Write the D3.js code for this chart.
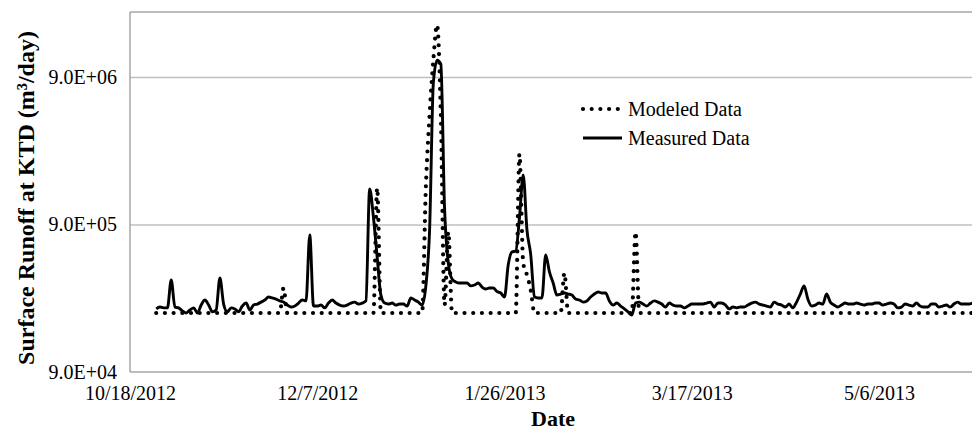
<!DOCTYPE html>
<html>
<head>
<meta charset="utf-8">
<script src="https://cdn.jsdelivr.net/npm/d3@7"></script>
<style>
  html, body { margin: 0; padding: 0; background: #fff; }
  svg { display: block; font-family: "Liberation Serif", "Times New Roman", serif; }
</style>
</head>
<body>
<svg id="chart" width="972" height="431"></svg>
<script>
// ---------------- DATA ----------------
const seriesStart = "2012-10-25";   // first daily value
const seriesNames = ["Modeled Data", "Measured Data"];

// Measured surface runoff, m3/day, daily from 10/25/2012
const measured = [
  241000,248000,245000,245000,378000,248000,245000,233000,226000,237000,
  245000,226000,256000,277000,256000,230000,237000,390000,260000,230000,
  245000,241000,230000,252000,264000,237000,256000,260000,268000,277000,
  290000,286000,281000,273000,268000,256000,248000,252000,264000,277000,
  273000,764000,252000,252000,256000,245000,264000,277000,264000,256000,
  252000,256000,264000,268000,260000,264000,273000,1567000,1012000,542000,
  299000,264000,260000,264000,256000,260000,260000,252000,286000,277000,
  268000,256000,345000,826000,8190000,11700000,11000000,1150000,493000,384000,
  367000,361000,361000,361000,345000,350000,361000,339000,329000,334000,
  334000,316000,309000,290000,480000,586000,595000,1000000,1950000,826000,
  565000,290000,286000,286000,559000,430000,361000,299000,304000,309000,
  304000,299000,281000,277000,268000,273000,290000,304000,314000,309000,
  309000,273000,256000,264000,252000,241000,230000,219000,264000,268000,
  260000,252000,264000,273000,268000,260000,248000,264000,256000,252000,
  252000,245000,252000,260000,260000,260000,260000,264000,268000,248000,
  264000,264000,256000,241000,248000,245000,248000,248000,256000,264000,
  268000,260000,256000,252000,248000,268000,260000,256000,248000,260000,
  245000,268000,304000,345000,281000,252000,256000,264000,260000,304000,
  268000,256000,248000,256000,264000,260000,260000,264000,260000,256000,
  260000,260000,264000,264000,256000,260000,264000,260000,245000,248000,
  260000,256000,252000,264000,252000,248000,248000,260000,260000,248000,
  252000,256000,248000,260000,268000,260000,260000,260000,264000
];

// Modeled surface runoff, m3/day, daily from 10/25/2012
const modeled = [
  226000,226000,226000,226000,226000,226000,226000,226000,226000,226000,
  226000,226000,226000,226000,226000,226000,226000,226000,226000,226000,
  226000,226000,226000,226000,226000,226000,226000,226000,226000,226000,
  226000,226000,226000,226000,334000,226000,226000,226000,226000,226000,
  226000,226000,226000,226000,226000,226000,226000,226000,226000,226000,
  226000,226000,226000,226000,226000,226000,226000,226000,226000,1590000,
  226000,226000,226000,226000,226000,226000,226000,226000,226000,226000,
  226000,226000,1600000,5000000,11700000,20300000,5000000,256000,800000,226000,
  226000,226000,226000,226000,226000,226000,226000,226000,226000,226000,
  226000,226000,226000,226000,226000,226000,226000,2700000,493000,409000,
  324000,226000,226000,226000,226000,226000,226000,226000,226000,422000,
  226000,226000,226000,226000,226000,226000,226000,226000,226000,226000,
  226000,226000,226000,226000,226000,226000,226000,226000,800000,226000,
  226000,226000,226000,226000,226000,226000,226000,226000,226000,226000,
  226000,226000,226000,226000,226000,226000,226000,226000,226000,226000,
  226000,226000,226000,226000,226000,226000,226000,226000,226000,226000,
  226000,226000,226000,226000,226000,226000,226000,226000,226000,226000,
  226000,226000,226000,226000,226000,226000,226000,226000,226000,226000,
  226000,226000,226000,226000,226000,226000,226000,226000,226000,226000,
  226000,226000,226000,226000,226000,226000,226000,226000,226000,226000,
  226000,226000,226000,226000,226000,226000,226000,226000,226000,226000,
  226000,226000,226000,226000,226000,226000,226000,226000,226000
];

const xTickDates  = ["2012-10-18", "2012-12-07", "2013-01-26", "2013-03-17", "2013-05-06"];
const xTickLabels = ["10/18/2012", "12/7/2012", "1/26/2013", "3/17/2013", "5/6/2013"];
const yTickValues = [90000, 900000, 9000000];
const yTickLabels = ["9.0E+04", "9.0E+05", "9.0E+06"];
const xTitle = "Date";
const yTitle = "Surface Runoff at KTD (m\u00B3/day)";

// ---------------- LAYOUT ----------------
const parse = d3.utcParse("%Y-%m-%d");
const DAY = 86400000;
const pLeft = 130, pRight = 972.6, pTop = 12, pBottom = 372;
const decadePx = 147.5;

const x = d3.scaleUtc()
  .domain([parse("2012-10-18"), new Date(+parse("2012-10-18") + 225 * DAY)])
  .range([pLeft, pRight]);

const y = d3.scaleLog()
  .domain([9e4, 9e7])
  .range([pBottom, pBottom - 3 * decadePx]);

const startMs = +parse(seriesStart);
const toPoints = arr => arr.map((v, i) => ({ date: new Date(startMs + i * DAY), value: v }));

const svg = d3.select("#chart");

svg.append("defs").append("clipPath").attr("id", "plotclip")
  .append("rect").attr("x", pLeft).attr("y", pTop)
  .attr("width", 972 - pLeft).attr("height", pBottom - pTop + 6);

// gridlines
const yGrid = d3.axisLeft(y).tickValues(yTickValues.slice(1)).tickSize(-(972 - pLeft)).tickFormat("");
svg.append("g").attr("transform", `translate(${pLeft},0)`).call(yGrid)
  .call(g => g.select(".domain").remove())
  .call(g => g.selectAll("line").attr("stroke", "#bfbfbf").attr("stroke-width", 1.5));

// top border
svg.append("line").attr("x1", pLeft).attr("x2", 972).attr("y1", pTop).attr("y2", pTop)
  .attr("stroke", "#a6a6a6").attr("stroke-width", 1.5);

// y axis
const yAxis = d3.axisLeft(y).tickValues(yTickValues).tickSize(0).tickPadding(13)
  .tickFormat((d, i) => yTickLabels[i]);
svg.append("g").attr("transform", `translate(${pLeft},0)`).call(yAxis)
  .call(g => g.select(".domain").attr("d", `M0,${pTop}V${pBottom}`).attr("stroke", "#a6a6a6").attr("stroke-width", 1.5))
  .call(g => g.selectAll("text").attr("font-size", 20).attr("fill", "#000")
    .attr("font-family", "Liberation Serif, Times New Roman, serif"));

// x axis
const xAxis = d3.axisBottom(x).tickValues(xTickDates.map(parse)).tickSize(0).tickPadding(14)
  .tickFormat((d, i) => xTickLabels[i]);
svg.append("g").attr("transform", `translate(0,${pBottom})`).call(xAxis)
  .call(g => g.select(".domain").attr("d", `M${pLeft},0H972`).attr("stroke", "#a6a6a6").attr("stroke-width", 1.5))
  .call(g => g.selectAll("text").attr("font-size", 20).attr("fill", "#000")
    .attr("font-family", "Liberation Serif, Times New Roman, serif"));

// lines
const line = d3.line().x(d => x(d.date)).y(d => y(d.value)).curve(d3.curveMonotoneX);
const plot = svg.append("g").attr("clip-path", "url(#plotclip)");

plot.append("path").datum(toPoints(measured))
  .attr("d", line).attr("fill", "none").attr("stroke", "#000")
  .attr("stroke-width", 2.9).attr("stroke-linejoin", "round");

plot.append("path").datum(toPoints(modeled))
  .attr("d", line).attr("fill", "none").attr("stroke", "#000")
  .attr("stroke-width", 4.2).attr("stroke-linecap", "round")
  .attr("stroke-dasharray", "0,8.7");

// legend
const legend = svg.append("g");
const legendRows = [
  { name: seriesNames[0], y: 109, dotted: true },
  { name: seriesNames[1], y: 138, dotted: false }
];
legendRows.forEach(r => {
  const l = legend.append("line").attr("x1", 583).attr("x2", 622).attr("y1", r.y).attr("y2", r.y)
    .attr("stroke", "#000");
  if (r.dotted) l.attr("stroke-width", 4.2).attr("stroke-linecap", "round").attr("stroke-dasharray", "0,8.7");
  else l.attr("stroke-width", 2.9);
  legend.append("text").attr("x", 628).attr("y", r.y).attr("dy", "0.33em")
    .attr("font-size", 20).text(r.name);
});

// axis titles
svg.append("text").attr("x", 553).attr("y", 426).attr("text-anchor", "middle")
  .attr("font-size", 22).attr("font-weight", "bold").text(xTitle);

svg.append("text").attr("transform", "translate(34,198) rotate(-90)")
  .attr("text-anchor", "middle").attr("font-size", 24).attr("font-weight", "bold").text(yTitle);
</script>
</body>
</html>
